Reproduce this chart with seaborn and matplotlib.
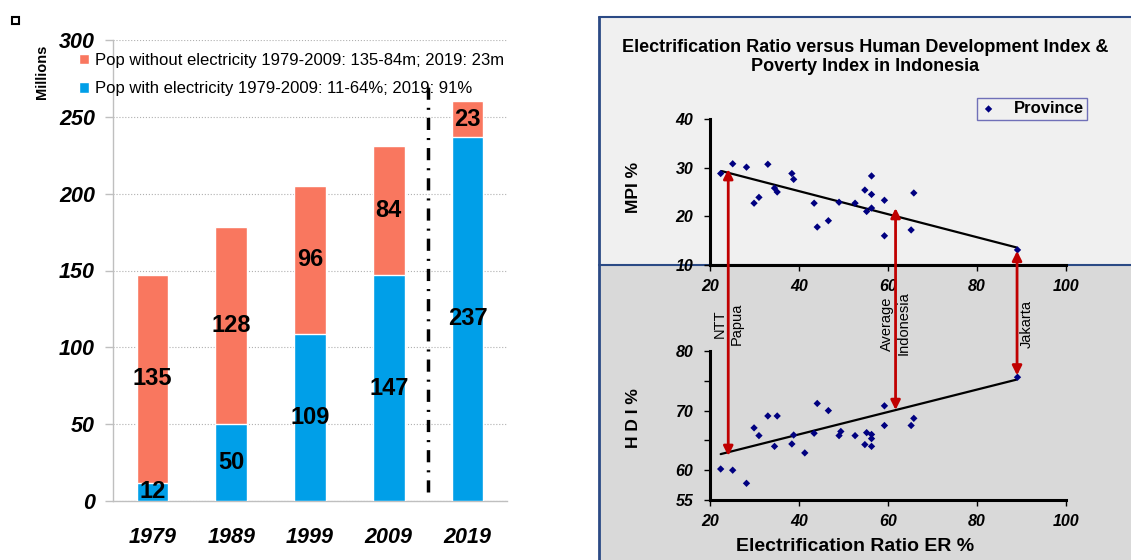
import numpy as np
import pandas as pd
import seaborn as sns
import matplotlib.pyplot as plt
from matplotlib.patches import Rectangle, ConnectionPatch
from matplotlib.lines import Line2D

# Left chart: population with / without electricity (millions)
years = ['1979', '1989', '1999', '2009', '2019']
pop_with = [12, 50, 109, 147, 237]
pop_without = [135, 128, 96, 84, 23]
label_without = 'Pop without electricity 1979-2009: 135-84m; 2019: 23m'
label_with = 'Pop with electricity 1979-2009: 11-64%; 2019: 91%'

# Right chart: electrification ratio vs MPI (per province)
mpi_er = [22.4, 25.1, 28.2, 29.9, 31.0, 33.0, 34.5, 35.1, 38.4, 38.8, 43.4, 44.1,
          46.6, 49.0, 52.6, 54.8, 55.2, 56.3, 56.3, 56.3, 59.2, 59.2, 65.2, 65.8, 89.1]
mpi_val = [28.8, 30.8, 30.1, 22.7, 23.9, 30.7, 25.8, 25.0, 28.8, 27.6, 22.7, 17.8,
           19.1, 22.9, 22.7, 25.4, 21.0, 28.3, 24.5, 21.7, 23.3, 16.0, 17.2, 24.8, 13.1]

# electrification ratio vs HDI (per province)
hdi_er = [22.4, 25.1, 28.2, 29.9, 31.0, 33.0, 34.5, 35.1, 38.4, 38.8, 41.3, 43.4, 44.1, 46.6,
          49.0, 49.4, 52.6, 54.8, 55.2, 56.3, 56.3, 56.3, 59.2, 59.2, 65.2, 65.8, 89.1]
hdi_val = [60.2, 60.0, 57.8, 67.1, 65.8, 69.1, 64.0, 69.1, 64.4, 65.9, 62.9, 66.2, 71.2, 70.0,
           65.8, 66.5, 65.8, 64.3, 66.3, 66.0, 65.3, 64.0, 70.8, 67.5, 67.5, 68.7, 75.6]

# trend lines
mpi_trend_er = [22.6, 88.9]
mpi_trend = [29.3, 13.6]
hdi_trend_er = [22.4, 88.9]
hdi_trend = [62.7, 75.2]

# highlighted provinces (arrows between the two panels)
arrow_er = [24.1, 61.7, 89.0]
arrow_mpi = [29.7, 21.7, 12.9]
arrow_hdi = [62.4, 70.1, 75.9]
arrow_labels = ['NTT\nPapua', 'Average\nIndonesia', 'Jakarta']

RED = '#F9775F'
BLUE = '#009FE8'
NAVY = '#000080'
DARKRED = '#C00000'
FRAME = '#2B4A85'

sns.set_theme(style='white')
plt.rcParams['font.family'] = ['Liberation Sans', 'DejaVu Sans']
plt.rcParams.update({'text.color': 'black', 'axes.labelcolor': 'black',
                     'xtick.color': 'black', 'ytick.color': 'black'})

W, H = 1131, 560
fig = plt.figure(figsize=(W / 100, H / 100), dpi=100)


def fx(px):
    return px / W


def fy(py):
    return 1 - py / H


# ---------------- left: stacked bars ----------------
ax = fig.add_axes([fx(113), fy(501), fx(507) - fx(113), fy(40) - fy(501)])
df = pd.DataFrame({'year': years, 'with': pop_with, 'without': pop_without})
df['total'] = df['with'] + df['without']

sns.barplot(data=df, x='year', y='total', color=RED, width=0.4, saturation=1,
            ax=ax, label=label_without, zorder=3)
sns.barplot(data=df, x='year', y='with', color=BLUE, width=0.4, saturation=1,
            ax=ax, label=label_with, zorder=3)

for i, (w, wo) in enumerate(zip(df['with'], df['without'])):
    ax.text(i, w / 2, str(w), ha='center', va='center', fontsize=17,
            fontweight='bold', zorder=5)
    ax.text(i, w + wo / 2, str(wo), ha='center', va='center', fontsize=17,
            fontweight='bold', zorder=5)

ax.set_xlim(-0.5, 4.5)
ax.set_ylim(0, 300)
ax.set_yticks(np.arange(0, 301, 50))
ax.set_xlabel('')
ax.set_ylabel('')
ax.yaxis.grid(True, color='#b0b0b0', ls=':', lw=0.8, zorder=0)
for s in ['top', 'right']:
    ax.spines[s].set_visible(False)
for s in ['left', 'bottom']:
    ax.spines[s].set_color('#bfbfbf')
    ax.spines[s].set_linewidth(1)
ax.set_xticks(np.arange(-0.5, 5, 1), minor=True)
ax.tick_params(axis='x', which='major', length=0, pad=19, labelsize=15.5)
ax.tick_params(axis='x', which='minor', length=6, color='#bfbfbf', width=1)
ax.tick_params(axis='y', length=6, color='#bfbfbf', width=1, pad=7, labelsize=15.5, left=True)
for t in ax.get_xticklabels() + ax.get_yticklabels():
    t.set_fontweight('bold')
    t.set_fontstyle('italic')

ax.vlines(3.5, 6, 270, colors='black', linestyles=(0, (3.5, 2.3, 0.6, 2.3)), lw=2.5, zorder=4)

ax.legend(loc='upper left', bbox_to_anchor=(fx(79), fy(53)), bbox_transform=fig.transFigure,
          frameon=False, fontsize=12.0, handlelength=0.6, handleheight=0.6,
          handletextpad=0.35, labelspacing=0.8, borderaxespad=0, borderpad=0)

fig.text(fx(42), fy(72), 'Millions', rotation=90, ha='center', va='center',
         fontsize=10.5, fontweight='bold')
fig.add_artist(Rectangle((fx(12), fy(24)), fx(7), 7 / H, fill=False, lw=1.5, ec='black'))

# ---------------- right: panel background ----------------
x0 = fx(599)
fig.add_artist(Rectangle((x0, fy(265)), 1 - x0, fy(17) - fy(265), fc='#f0f0f0', ec='none', zorder=-2))
fig.add_artist(Rectangle((x0, 0), 1 - x0, fy(265), fc='#d9d9d9', ec='none', zorder=-2))
fig.add_artist(Line2D([x0, x0], [0, fy(17)], color=FRAME, lw=2, zorder=-1))
fig.add_artist(Line2D([x0, 1], [fy(17), fy(17)], color=FRAME, lw=1.5, zorder=-1))
fig.add_artist(Line2D([x0, 1], [fy(265), fy(265)], color=FRAME, lw=1.5, zorder=-1))

fig.text(fx(865), fy(57), 'Electrification Ratio versus Human Development Index &\nPoverty Index in Indonesia',
         ha='center', va='center', fontsize=13, fontweight='bold', linespacing=1.15)

ax1 = fig.add_axes([fx(710), fy(265), fx(1066) - fx(710), fy(119) - fy(265)])
ax2 = fig.add_axes([fx(710), fy(500), fx(1066) - fx(710), fy(351) - fy(500)])

sns.scatterplot(x=mpi_er, y=mpi_val, marker='D', s=14, color=NAVY, edgecolor='none',
                label='Province', ax=ax1, zorder=3)
ax1.plot(mpi_trend_er, mpi_trend, color='black', lw=1.6, zorder=2)
ax1.set_xlim(20, 100)
ax1.set_ylim(10, 40)
ax1.set_yticks([10, 20, 30, 40])
ax1.set_xticks([20, 40, 60, 80, 100])
ax1.set_ylabel('MPI %', fontsize=12.5, fontweight='bold')

sns.scatterplot(x=hdi_er, y=hdi_val, marker='D', s=14, color=NAVY, edgecolor='none',
                ax=ax2, zorder=3, legend=False)
ax2.plot(hdi_trend_er, hdi_trend, color='black', lw=1.6, zorder=2)
ax2.set_xlim(20, 100)
ax2.set_ylim(55, 80)
ax2.set_yticks([55, 60, 65, 70, 75, 80])
ax2.set_yticklabels(['55', '60', '', '70', '', '80'])
ax2.set_xticks([20, 40, 60, 80, 100])
ax2.set_ylabel('H D I %', fontsize=12.5, fontweight='bold')
ax2.set_xlabel('Electrification Ratio ER %', fontsize=14, fontweight='bold')

# label placement in axes fraction
ax1.yaxis.set_label_coords((641 - 710) / 356, (265 - 187) / 146)
ax2.yaxis.set_label_coords((641 - 710) / 356, (500 - 418) / 149)
ax2.xaxis.set_label_coords((855 - 710) / 356, (500 - 538) / 149)

for a in (ax1, ax2):
    a.set_facecolor('none')
    for s in ['top', 'right']:
        a.spines[s].set_visible(False)
    for s in ['left', 'bottom']:
        a.spines[s].set_color('black')
        a.spines[s].set_linewidth(2.2)
    a.tick_params(axis='both', direction='out', length=4, width=1, color='black',
                  labelsize=11.5, left=True, bottom=True)
    a.tick_params(axis='y', pad=8)
    a.tick_params(axis='x', pad=6)
    for t in a.get_xticklabels() + a.get_yticklabels():
        t.set_fontweight('bold')
        t.set_fontstyle('italic')

leg = ax1.legend(loc='upper right', bbox_to_anchor=(fx(1087), fy(98)), bbox_transform=fig.transFigure,
                 frameon=True, fancybox=False, edgecolor='#7070b8', facecolor='#f0f0f0', framealpha=1,
                 prop={'weight': 'bold', 'size': 12}, handletextpad=1.0, borderpad=0.2,
                 borderaxespad=0, handlelength=1.0)
leg.get_frame().set_linewidth(1)

for er, m, h, lab in zip(arrow_er, arrow_mpi, arrow_hdi, arrow_labels):
    con = ConnectionPatch(xyA=(er, h), coordsA=ax2.transData, xyB=(er, m), coordsB=ax1.transData,
                          arrowstyle='<|-|>', mutation_scale=14, color=DARKRED, lw=2, zorder=6)
    fig.add_artist(con)
    dx = 2.2 if '\n' not in lab else 0
    ax2.text(er + dx, 84.6, lab, rotation=90, ha='center', va='center', fontsize=10.5,
             multialignment='center', clip_on=False, zorder=7)

fig.savefig('out.png', dpi=100)
